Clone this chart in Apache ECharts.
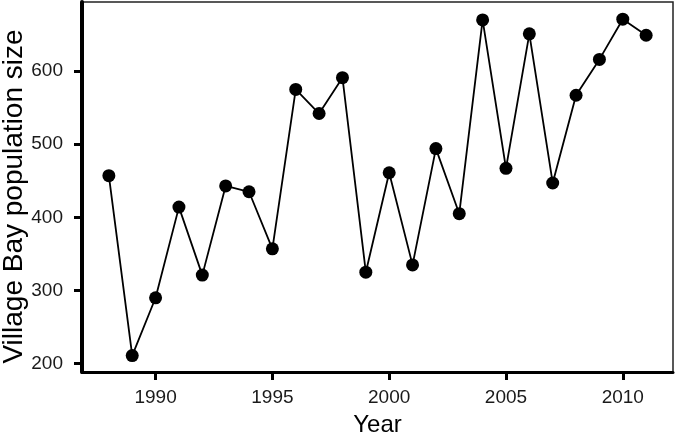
<!DOCTYPE html>
<html>
<head>
<meta charset="utf-8">
<script src="https://cdn.jsdelivr.net/npm/echarts@6/dist/echarts.min.js"></script>
<style>html,body{margin:0;padding:0;background:#fff;}#c{width:677px;height:436px;}</style>
</head>
<body>
<div id="c"></div>
<script>
var years = [1988,1989,1990,1991,1992,1993,1994,1995,1996,1997,1998,1999,2000,2001,2002,2003,2004,2005,2006,2007,2008,2009,2010,2011];
var population = [457,211,290,414,321,443,435,357,575,542,591,325,461,335,494,405,670,467,651,447,567,616,671,649];
var xTicks = [1990,1995,2000,2005,2010];
var yTicks = [200,300,400,500,600];

var data = years.map(function(y,i){return [y, population[i]];});
var chart = echarts.init(document.getElementById('c'), null, {renderer:'canvas'});
var font = 'Liberation Sans, Arial, sans-serif';
chart.setOption({
  animation:false,
  grid:{left:82,right:4,top:2,bottom:64,containLabel:false,outerBoundsMode:'none',show:true,borderColor:'#222',borderWidth:1.5,backgroundColor:'#fff'},
  xAxis:{
    type:'value', min:1986.85, max:2012.15,
    name:'Year', nameLocation:'middle', nameGap:41,
    nameTextStyle:{fontFamily:font,fontSize:24,color:'#000'},
    axisLine:{show:true,onZero:false,lineStyle:{color:'#000',width:3}},
    axisTick:{show:true,length:8,lineStyle:{color:'#000',width:3},customValues:xTicks},
    axisLabel:{fontFamily:font,fontSize:19,color:'#1a1a1a',margin:16,customValues:xTicks,formatter:function(v){return String(v);}},
    splitLine:{show:false}
  },
  yAxis:{
    type:'value', min:188.5, max:694.5,
    name:'Village Bay population size', nameLocation:'middle', nameGap:54, nameMoveOverlap:false,
    nameTextStyle:{fontFamily:font,fontSize:28,color:'#000',padding:[0,19,0,0]},
    axisLine:{show:true,onZero:false,lineStyle:{color:'#000',width:4}},
    axisTick:{show:true,length:8,lineStyle:{color:'#000',width:3},customValues:yTicks},
    axisLabel:{fontFamily:font,fontSize:19,color:'#1a1a1a',margin:19,customValues:yTicks,formatter:function(v){return String(v);}},
    splitLine:{show:false}
  },
  series:[{
    type:'line', data:data, symbol:'circle', symbolSize:13,
    lineStyle:{color:'#000',width:1.8},
    itemStyle:{color:'#000'}
  }]
});
</script>
</body>
</html>
